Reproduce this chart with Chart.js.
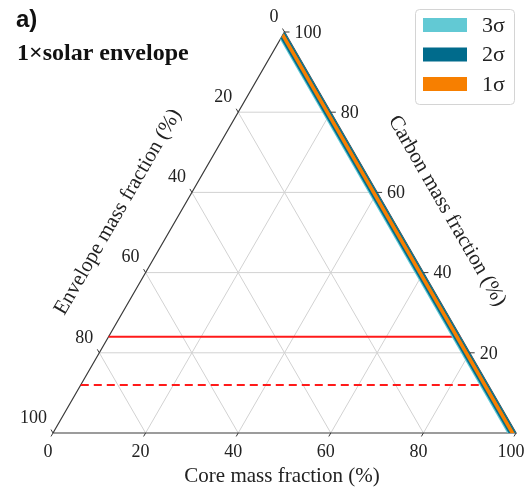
<!DOCTYPE html>
<html>
<head>
<meta charset="utf-8">
<script src="https://cdn.jsdelivr.net/npm/chart.js@4"></script>
<style>
  html, body { margin: 0; padding: 0; background: #fff; }
  canvas { display: block; }
</style>
</head>
<body>
<canvas id="ternary" width="528" height="491"></canvas>
<script>
// ===== Adatok =====
const envelopeTicks = [0, 20, 40, 60, 80, 100];
const carbonTicks = [20, 40, 60, 80, 100];
const coreTicks = [0, 20, 40, 60, 80, 100];
const gridLevels = [20, 40, 60, 80];

const sigmaLabels = ['3σ', '2σ', '1σ'];
const sigmaEnvMin = [0, 0, 0.3];     // envelope mass fraction (%)
const sigmaEnvMax = [1.9, 1.6, 1.2];

const limitCarbon = [24, 12];        // vízszintes piros vonalak (carbon %)

// ===== Stílus =====
const sigmaColors = ['#62c9d4', '#006b8c', '#f77f00'];
const gridColor = '#d2d2d2';
const edgeColor = '#3a3a3a';
const serif = '"Liberation Serif", "DejaVu Serif", serif';

// ternary (core, envelope, carbon) -> x, y
const toXY = (core, env, carbon) => ({
  x: (core + carbon / 2) / 100,
  y: carbon * Math.sqrt(3) / 200
});

const lineSet = (points, color, width, order, dash = []) => ({
  data: points,
  showLine: true,
  borderColor: color,
  borderWidth: width,
  borderDash: dash,
  pointRadius: 0,
  fill: false,
  clip: false,
  order
});

const datasets = [];

// rács
gridLevels.forEach(v => {
  datasets.push(lineSet([toXY(0, 100 - v, v), toXY(100 - v, 0, v)], gridColor, 1, 50));
  datasets.push(lineSet([toXY(v, 100 - v, 0), toXY(v, 0, 100 - v)], gridColor, 1, 50));
  datasets.push(lineSet([toXY(0, v, 100 - v), toXY(100 - v, v, 0)], gridColor, 1, 50));
});

// háromszög
datasets.push(lineSet([toXY(0, 100, 0), toXY(100, 0, 0), toXY(0, 0, 100), toXY(0, 100, 0)], edgeColor, 1.2, 40));

// piros vonalak
limitCarbon.forEach((k, i) => {
  datasets.push(lineSet([toXY(0, 100 - k, k), toXY(100 - k, 0, k)], '#ff1a1a', 2, 30, i === 0 ? [] : [8, 5]));
});

// sigma sávok
sigmaLabels.forEach((label, i) => {
  const a = sigmaEnvMin[i], b = sigmaEnvMax[i];
  datasets.push({
    label,
    data: [toXY(0, a, 100 - a), toXY(0, b, 100 - b), toXY(100 - b, b, 0), toXY(100 - a, a, 0), toXY(0, a, 100 - a)],
    showLine: true,
    borderWidth: 0,
    borderColor: sigmaColors[i],
    backgroundColor: sigmaColors[i],
    pointRadius: 0,
    fill: 'shape',
    clip: false,
    order: 20 - i
  });
});

const decorations = {
  id: 'decorations',
  afterDraw(chart) {
    const { ctx, scales: { x, y } } = chart;
    const px = p => ({ x: x.getPixelForValue(p.x), y: y.getPixelForValue(p.y) });
    const c60 = Math.cos(Math.PI / 3), s60 = Math.sin(Math.PI / 3);

    ctx.save();
    ctx.strokeStyle = edgeColor;
    ctx.lineWidth = 1;
    ctx.fillStyle = '#222';
    ctx.font = `18px ${serif}`;
    ctx.textBaseline = 'middle';

    // envelope (bal oldal)
    ctx.textAlign = 'right';
    envelopeTicks.forEach(v => {
      const t = px(toXY(0, v, 100 - v));
      ctx.beginPath();
      ctx.moveTo(t.x, t.y);
      ctx.lineTo(t.x - 4 * c60, t.y - 4 * s60);
      ctx.stroke();
      ctx.fillText(String(v), t.x - 6, t.y - 15);
    });

    // carbon (jobb oldal)
    ctx.textAlign = 'left';
    carbonTicks.forEach(v => {
      const t = px(toXY(100 - v, 0, v));
      ctx.beginPath();
      ctx.moveTo(t.x, t.y);
      ctx.lineTo(t.x + 5, t.y);
      ctx.stroke();
      ctx.fillText(String(v), t.x + 10, t.y + 1);
    });

    // core (alul)
    ctx.textAlign = 'center';
    coreTicks.forEach(v => {
      const t = px(toXY(v, 100 - v, 0));
      ctx.beginPath();
      ctx.moveTo(t.x, t.y);
      ctx.lineTo(t.x - 4 * c60, t.y + 4 * s60);
      ctx.stroke();
      ctx.fillText(String(v), t.x - 5, t.y + 19);
    });

    // tengelycímek
    ctx.font = `21px ${serif}`;
    ctx.fillText('Core mass fraction (%)', 282, 476);

    ctx.save();
    ctx.translate(118, 212);
    ctx.rotate(-Math.PI / 3);
    ctx.fillText('Envelope mass fraction (%)', 0, 0);
    ctx.restore();

    ctx.save();
    ctx.translate(447, 211);
    ctx.rotate(Math.PI / 3);
    ctx.fillText('Carbon mass fraction (%)', 0, 0);
    ctx.restore();

    // cím
    ctx.textAlign = 'left';
    ctx.fillStyle = '#111';
    ctx.font = 'bold 24px "Liberation Sans", "DejaVu Sans", sans-serif';
    ctx.fillText('a)', 16, 20);
    ctx.font = `bold 24px ${serif}`;
    ctx.fillText('1×solar envelope', 17, 54);

    // jelmagyarázat
    ctx.fillStyle = '#fff';
    ctx.strokeStyle = '#d4d4d4';
    ctx.lineWidth = 1;
    ctx.beginPath();
    ctx.roundRect(415.5, 9.5, 99, 95, 4);
    ctx.fill();
    ctx.stroke();
    ctx.font = `22px ${serif}`;
    sigmaLabels.forEach((label, i) => {
      const cy = 25 + i * 29.5;
      ctx.fillStyle = sigmaColors[i];
      ctx.fillRect(423, cy - 7, 44, 14);
      ctx.fillStyle = '#222';
      ctx.fillText(label, 482, cy + 1);
    });
    ctx.restore();
  }
};

new Chart(document.getElementById('ternary'), {
  type: 'scatter',
  data: { datasets },
  options: {
    responsive: false,
    animation: false,
    layout: { padding: { left: 53, right: 12, top: 32, bottom: 58 } },
    scales: {
      x: { display: false, min: 0, max: 1 },
      y: { display: false, min: 0, max: Math.sqrt(3) / 2 }
    },
    plugins: {
      legend: { display: false },
      tooltip: { enabled: false }
    }
  },
  plugins: [decorations]
});
</script>
</body>
</html>
